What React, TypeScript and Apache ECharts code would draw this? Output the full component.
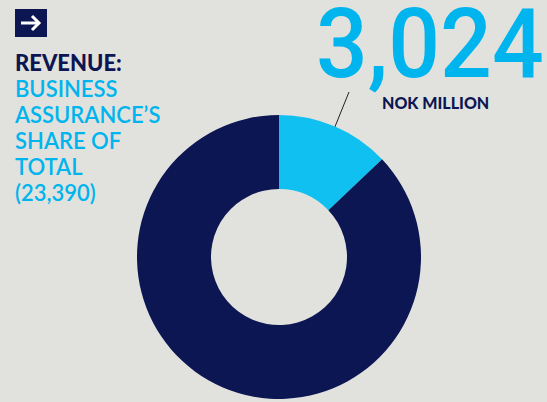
import React, { useEffect, useRef } from "react";
import * as echarts from "echarts";

const segmentNames = ["Business Assurance", "Rest of group"];
const segmentValues = [3024, 23390 - 3024];
const headline = "3,024";
const unitLabel = "NOK MILLION";
const titleLines = ["REVENUE:"];
const subtitleLines = ["BUSINESS", "ASSURANCE\u2019S", "SHARE OF", "TOTAL", "(23,390)"];

const BG = "#e1e2dd";
const NAVY = "#0c1652";
const CYAN = "#10c0f0";
const CYAN_TEXT = "#00b4ee";

export default function App() {
  const ref = useRef<HTMLDivElement>(null);
  useEffect(() => {
    if (!ref.current) return;
    const chart = echarts.init(ref.current, undefined, { renderer: "svg" });
    const textEls: any[] = [];
    const font = "Lato, 'Open Sans', sans-serif";
    let y = 51;
    titleLines.forEach((t) => {
      textEls.push({
        type: "text",
        x: 15,
        y,
        style: { text: t, fill: NAVY, font: `900 22px ${font}`, letterSpacing: 0.7, textVerticalAlign: "top" },
      });
      y += 26;
    });
    subtitleLines.forEach((t) => {
      textEls.push({
        type: "text",
        x: 15,
        y,
        style: { text: t, fill: CYAN_TEXT, font: `600 22px ${font}`, letterSpacing: 0.85, textVerticalAlign: "top" },
      });
      y += 26;
    });
    chart.setOption({
      animation: false,
      backgroundColor: BG,
      series: [
        {
          type: "pie",
          center: [279, 257],
          radius: [68, 142],
          startAngle: 90,
          clockwise: true,
          label: { show: false },
          labelLine: { show: false },
          emphasis: { disabled: true },
          itemStyle: { borderWidth: 0 },
          data: segmentNames.map((n, i) => ({
            name: n,
            value: segmentValues[i],
            itemStyle: { color: i === 0 ? CYAN : NAVY },
          })),
        },
      ],
      graphic: [
        { type: "rect", shape: { x: 15, y: 9, width: 32, height: 28 }, style: { fill: NAVY } },
        {
          type: "line",
          shape: { x1: 21, y1: 23, x2: 39, y2: 23 },
          style: { stroke: "#ffffff", lineWidth: 3 },
        },
        {
          type: "polyline",
          shape: { points: [[32, 16], [39, 23], [32, 30]] },
          style: { stroke: "#ffffff", lineWidth: 3, fill: "none" },
        },
        ...textEls,
        {
          type: "text",
          x: 316,
          y: -4,
          scaleX: 0.95,
          style: {
            text: headline,
            fill: CYAN_TEXT,
            font: `500 96px Roboto, sans-serif`,
            letterSpacing: -3,
            textVerticalAlign: "top",
          },
        },
        {
          type: "text",
          x: 382,
          y: 94,
          style: { text: unitLabel, fill: NAVY, font: `900 16px ${font}`, letterSpacing: 0.4, textVerticalAlign: "top" },
        },
        {
          type: "line",
          shape: { x1: 349, y1: 92, x2: 330, y2: 139 },
          style: { stroke: "#222222", lineWidth: 1 },
        },
      ],
    });
    return () => chart.dispose();
  }, []);
  return (
    <div
      ref={ref}
      style={{ position: "fixed", left: 0, top: 0, width: 547, height: 402 }}
    />
  );
}
